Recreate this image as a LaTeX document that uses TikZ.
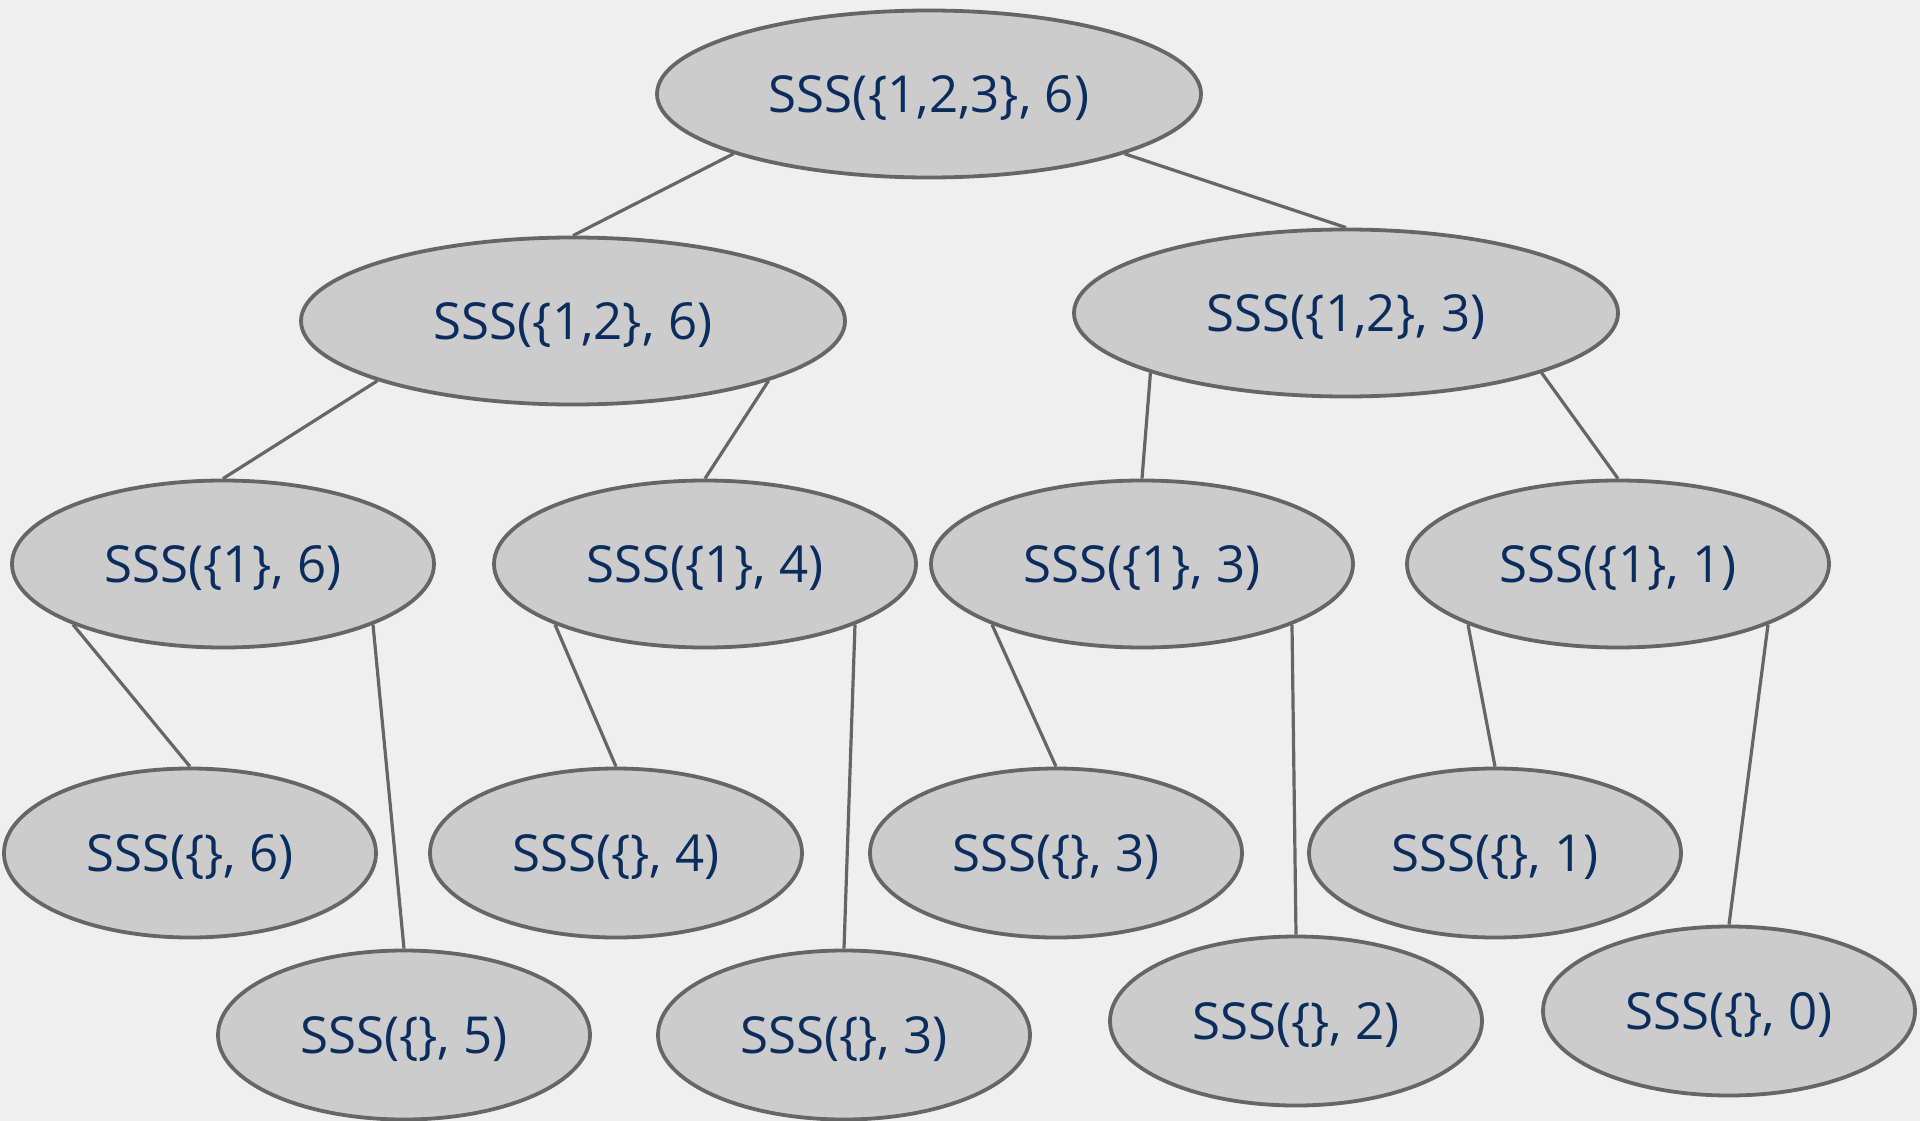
\documentclass[tikz,border=0pt]{standalone}
\usepackage{fontspec}
\setmainfont{Open Sans}
\usetikzlibrary{shapes.geometric}
\definecolor{bgcol}{HTML}{EFEFEF}
\definecolor{nodefill}{HTML}{CCCCCC}
\definecolor{linecol}{HTML}{666666}
\definecolor{textcol}{HTML}{0A2D5E}
\tikzset{
  sss/.style={ellipse, draw=linecol, fill=nodefill, line width=3.8pt,
    inner sep=0pt, text=textcol, font=\fontsize{51}{60}\selectfont,
    text height=48pt, text depth=11pt},
  bigsss/.style={sss, minimum width=544pt, minimum height=167pt},
  midsss/.style={sss, minimum width=422pt, minimum height=167pt},
  leafsss/.style={sss, minimum width=372pt, minimum height=169pt},
  edge/.style={draw=linecol, line width=3.2pt}
}
\begin{document}
\begin{tikzpicture}[x=1pt, y=-1pt]
  \fill[bgcol] (0,0) rectangle (1920,1121);
  \useasboundingbox (0,0) rectangle (1920,1121);

  % root and first level
  \node[bigsss] (r)   at (929,94)  {SSS(\{1,2,3\}, 6)};
  \node[bigsss] (a)   at (573,321) {SSS(\{1,2\}, 6)};
  \node[bigsss] (b)   at (1346,313) {SSS(\{1,2\}, 3)};

  % second level
  \node[midsss] (a1)  at (223,564) {SSS(\{1\}, 6)};
  \node[midsss] (a2)  at (705,564) {SSS(\{1\}, 4)};
  \node[midsss] (b1)  at (1142,564) {SSS(\{1\}, 3)};
  \node[midsss] (b2)  at (1618,564) {SSS(\{1\}, 1)};

  % leaves
  \node[leafsss] (l1) at (190,853)  {SSS(\{\}, 6)};
  \node[leafsss] (l2) at (404,1035) {SSS(\{\}, 5)};
  \node[leafsss] (l3) at (616,853)  {SSS(\{\}, 4)};
  \node[leafsss] (l4) at (844,1035) {SSS(\{\}, 3)};
  \node[leafsss] (l5) at (1056,853) {SSS(\{\}, 3)};
  \node[leafsss] (l6) at (1296,1021) {SSS(\{\}, 2)};
  \node[leafsss] (l7) at (1495,853) {SSS(\{\}, 1)};
  \node[leafsss] (l8) at (1729,1011) {SSS(\{\}, 0)};

  % tree edges: from the parent's lower rim to the child's top
  \draw[edge] (r.197) -- (a.north);
  \draw[edge] (r.343) -- (b.north);
  \draw[edge] (a.197) -- (a1.north);
  \draw[edge] (a.343) -- (a2.north);
  \draw[edge] (b.197) -- (b1.north);
  \draw[edge] (b.343) -- (b2.north);
  \draw[edge] (a1.202) -- (l1.north);
  \draw[edge] (a1.338) -- (l2.north);
  \draw[edge] (a2.202) -- (l3.north);
  \draw[edge] (a2.338) -- (l4.north);
  \draw[edge] (b1.202) -- (l5.north);
  \draw[edge] (b1.338) -- (l6.north);
  \draw[edge] (b2.202) -- (l7.north);
  \draw[edge] (b2.338) -- (l8.north);
\end{tikzpicture}
\end{document}
